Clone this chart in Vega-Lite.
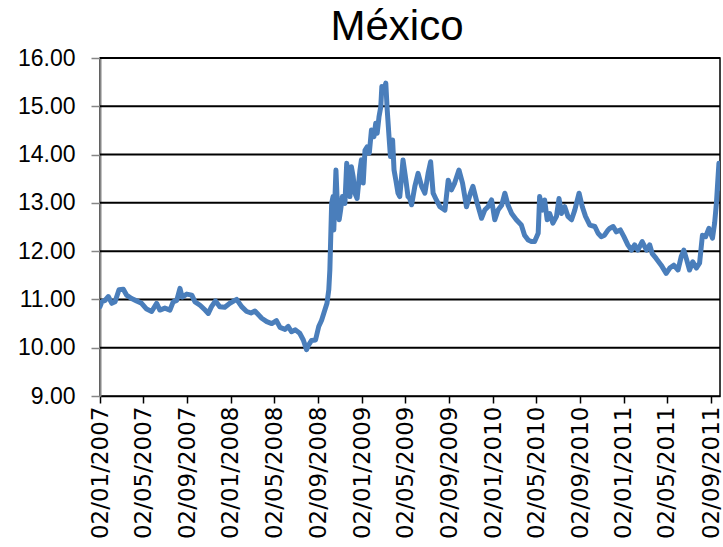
{
  "$schema": "https://vega.github.io/schema/vega-lite/v6.json",
  "autosize": "none",
  "width": 620,
  "height": 338,
  "padding": {"left": 100, "top": 58, "right": 3, "bottom": 151},
  "background": "white",
  "title": {
    "text": "México",
    "font": "Liberation Sans",
    "fontSize": 42,
    "fontWeight": "normal",
    "color": "#000000",
    "anchor": "middle",
    "offset": 10,
    "dx": -13,
    "dy": 12
  },
  "config": {
    "view": {"stroke": "#000000", "strokeWidth": 1.5},
    "axis": {"grid": false}
  },
  "data": {
    "values": [
      {"date": "2007-01-02", "rate": 10.85},
      {"date": "2007-01-07", "rate": 10.95},
      {"date": "2007-01-16", "rate": 10.98},
      {"date": "2007-01-25", "rate": 11.06},
      {"date": "2007-02-04", "rate": 10.92},
      {"date": "2007-02-13", "rate": 10.95},
      {"date": "2007-02-24", "rate": 11.20},
      {"date": "2007-03-08", "rate": 11.21},
      {"date": "2007-03-17", "rate": 11.09},
      {"date": "2007-03-31", "rate": 11.02},
      {"date": "2007-04-14", "rate": 10.97},
      {"date": "2007-04-28", "rate": 10.92},
      {"date": "2007-05-12", "rate": 10.80},
      {"date": "2007-05-26", "rate": 10.75},
      {"date": "2007-06-09", "rate": 10.92},
      {"date": "2007-06-18", "rate": 10.78},
      {"date": "2007-07-02", "rate": 10.82},
      {"date": "2007-07-16", "rate": 10.78},
      {"date": "2007-07-25", "rate": 10.95},
      {"date": "2007-08-04", "rate": 10.98},
      {"date": "2007-08-13", "rate": 11.23},
      {"date": "2007-08-19", "rate": 11.05},
      {"date": "2007-09-01", "rate": 11.11},
      {"date": "2007-09-15", "rate": 11.09},
      {"date": "2007-09-24", "rate": 10.95},
      {"date": "2007-10-08", "rate": 10.88},
      {"date": "2007-10-22", "rate": 10.78},
      {"date": "2007-10-31", "rate": 10.71},
      {"date": "2007-11-09", "rate": 10.85},
      {"date": "2007-11-20", "rate": 10.97},
      {"date": "2007-12-02", "rate": 10.85},
      {"date": "2007-12-16", "rate": 10.84},
      {"date": "2007-12-30", "rate": 10.92},
      {"date": "2008-01-18", "rate": 11.00},
      {"date": "2008-02-01", "rate": 10.85},
      {"date": "2008-02-15", "rate": 10.75},
      {"date": "2008-02-27", "rate": 10.72},
      {"date": "2008-03-09", "rate": 10.76},
      {"date": "2008-03-28", "rate": 10.61},
      {"date": "2008-04-11", "rate": 10.54},
      {"date": "2008-04-25", "rate": 10.50},
      {"date": "2008-05-08", "rate": 10.56},
      {"date": "2008-05-18", "rate": 10.42},
      {"date": "2008-06-01", "rate": 10.38},
      {"date": "2008-06-10", "rate": 10.44},
      {"date": "2008-06-19", "rate": 10.33},
      {"date": "2008-06-30", "rate": 10.37},
      {"date": "2008-07-12", "rate": 10.30},
      {"date": "2008-07-22", "rate": 10.16},
      {"date": "2008-07-31", "rate": 9.96},
      {"date": "2008-08-06", "rate": 10.06},
      {"date": "2008-08-14", "rate": 10.15},
      {"date": "2008-08-25", "rate": 10.16},
      {"date": "2008-09-03", "rate": 10.44},
      {"date": "2008-09-11", "rate": 10.57},
      {"date": "2008-09-20", "rate": 10.78},
      {"date": "2008-09-26", "rate": 10.92},
      {"date": "2008-10-01", "rate": 11.20},
      {"date": "2008-10-04", "rate": 11.61},
      {"date": "2008-10-09", "rate": 12.99},
      {"date": "2008-10-13", "rate": 13.13},
      {"date": "2008-10-15", "rate": 12.44},
      {"date": "2008-10-21", "rate": 13.68},
      {"date": "2008-10-24", "rate": 13.13},
      {"date": "2008-10-30", "rate": 12.65},
      {"date": "2008-11-03", "rate": 12.85},
      {"date": "2008-11-08", "rate": 13.13},
      {"date": "2008-11-15", "rate": 12.99},
      {"date": "2008-11-20", "rate": 13.82},
      {"date": "2008-11-24", "rate": 13.41},
      {"date": "2008-11-29", "rate": 13.13},
      {"date": "2008-12-03", "rate": 13.75},
      {"date": "2008-12-08", "rate": 13.54},
      {"date": "2008-12-13", "rate": 13.20},
      {"date": "2008-12-19", "rate": 13.09},
      {"date": "2008-12-27", "rate": 13.68},
      {"date": "2008-12-31", "rate": 13.89},
      {"date": "2009-01-05", "rate": 13.41},
      {"date": "2009-01-10", "rate": 14.09},
      {"date": "2009-01-16", "rate": 14.16},
      {"date": "2009-01-22", "rate": 14.03},
      {"date": "2009-01-28", "rate": 14.51},
      {"date": "2009-02-04", "rate": 14.37},
      {"date": "2009-02-09", "rate": 14.65},
      {"date": "2009-02-13", "rate": 14.44},
      {"date": "2009-02-18", "rate": 14.78},
      {"date": "2009-02-23", "rate": 14.99},
      {"date": "2009-02-26", "rate": 15.41},
      {"date": "2009-03-04", "rate": 15.34},
      {"date": "2009-03-09", "rate": 15.48},
      {"date": "2009-03-13", "rate": 14.92},
      {"date": "2009-03-18", "rate": 14.37},
      {"date": "2009-03-22", "rate": 13.96},
      {"date": "2009-03-28", "rate": 14.30},
      {"date": "2009-04-01", "rate": 13.68},
      {"date": "2009-04-06", "rate": 13.47},
      {"date": "2009-04-12", "rate": 13.20},
      {"date": "2009-04-17", "rate": 13.13},
      {"date": "2009-04-22", "rate": 13.54},
      {"date": "2009-04-26", "rate": 13.89},
      {"date": "2009-05-04", "rate": 13.47},
      {"date": "2009-05-10", "rate": 13.13},
      {"date": "2009-05-15", "rate": 13.09},
      {"date": "2009-05-20", "rate": 12.96},
      {"date": "2009-05-29", "rate": 13.34},
      {"date": "2009-06-07", "rate": 13.61},
      {"date": "2009-06-17", "rate": 13.34},
      {"date": "2009-06-26", "rate": 13.20},
      {"date": "2009-07-05", "rate": 13.61},
      {"date": "2009-07-12", "rate": 13.85},
      {"date": "2009-07-19", "rate": 13.20},
      {"date": "2009-07-28", "rate": 13.06},
      {"date": "2009-08-07", "rate": 12.92},
      {"date": "2009-08-21", "rate": 12.85},
      {"date": "2009-08-30", "rate": 13.47},
      {"date": "2009-09-08", "rate": 13.27},
      {"date": "2009-09-17", "rate": 13.41},
      {"date": "2009-09-29", "rate": 13.68},
      {"date": "2009-10-09", "rate": 13.41},
      {"date": "2009-10-20", "rate": 12.92},
      {"date": "2009-10-31", "rate": 13.20},
      {"date": "2009-11-07", "rate": 13.34},
      {"date": "2009-11-19", "rate": 12.99},
      {"date": "2009-12-01", "rate": 12.68},
      {"date": "2009-12-10", "rate": 12.85},
      {"date": "2009-12-19", "rate": 12.92},
      {"date": "2009-12-29", "rate": 13.06},
      {"date": "2010-01-07", "rate": 12.65},
      {"date": "2010-01-16", "rate": 12.85},
      {"date": "2010-01-26", "rate": 12.95},
      {"date": "2010-02-04", "rate": 13.20},
      {"date": "2010-02-13", "rate": 12.95},
      {"date": "2010-02-23", "rate": 12.78},
      {"date": "2010-03-08", "rate": 12.65},
      {"date": "2010-03-22", "rate": 12.54},
      {"date": "2010-03-31", "rate": 12.33},
      {"date": "2010-04-10", "rate": 12.23},
      {"date": "2010-04-19", "rate": 12.20},
      {"date": "2010-04-28", "rate": 12.20},
      {"date": "2010-05-08", "rate": 12.37},
      {"date": "2010-05-12", "rate": 13.13},
      {"date": "2010-05-20", "rate": 12.85},
      {"date": "2010-05-26", "rate": 13.06},
      {"date": "2010-06-02", "rate": 12.65},
      {"date": "2010-06-09", "rate": 12.78},
      {"date": "2010-06-18", "rate": 12.58},
      {"date": "2010-06-28", "rate": 12.72},
      {"date": "2010-07-05", "rate": 13.09},
      {"date": "2010-07-12", "rate": 12.78},
      {"date": "2010-07-21", "rate": 12.92},
      {"date": "2010-07-30", "rate": 12.72},
      {"date": "2010-08-09", "rate": 12.65},
      {"date": "2010-08-18", "rate": 12.85},
      {"date": "2010-08-30", "rate": 13.20},
      {"date": "2010-09-08", "rate": 12.92},
      {"date": "2010-09-17", "rate": 12.72},
      {"date": "2010-09-29", "rate": 12.54},
      {"date": "2010-10-13", "rate": 12.51},
      {"date": "2010-10-22", "rate": 12.37},
      {"date": "2010-10-31", "rate": 12.30},
      {"date": "2010-11-09", "rate": 12.33},
      {"date": "2010-11-19", "rate": 12.44},
      {"date": "2010-11-23", "rate": 12.47},
      {"date": "2010-12-03", "rate": 12.51},
      {"date": "2010-12-12", "rate": 12.40},
      {"date": "2010-12-23", "rate": 12.44},
      {"date": "2011-01-02", "rate": 12.30},
      {"date": "2011-01-13", "rate": 12.13},
      {"date": "2011-01-23", "rate": 12.02},
      {"date": "2011-02-01", "rate": 12.13},
      {"date": "2011-02-10", "rate": 12.02},
      {"date": "2011-02-22", "rate": 12.20},
      {"date": "2011-03-06", "rate": 12.02},
      {"date": "2011-03-15", "rate": 12.13},
      {"date": "2011-03-22", "rate": 11.95},
      {"date": "2011-04-02", "rate": 11.85},
      {"date": "2011-04-16", "rate": 11.71},
      {"date": "2011-04-30", "rate": 11.54},
      {"date": "2011-05-10", "rate": 11.65},
      {"date": "2011-05-21", "rate": 11.71},
      {"date": "2011-06-02", "rate": 11.61},
      {"date": "2011-06-11", "rate": 11.89},
      {"date": "2011-06-18", "rate": 12.02},
      {"date": "2011-06-25", "rate": 11.85},
      {"date": "2011-07-04", "rate": 11.61},
      {"date": "2011-07-13", "rate": 11.78},
      {"date": "2011-07-23", "rate": 11.65},
      {"date": "2011-08-01", "rate": 11.75},
      {"date": "2011-08-09", "rate": 12.33},
      {"date": "2011-08-18", "rate": 12.30},
      {"date": "2011-08-27", "rate": 12.47},
      {"date": "2011-09-06", "rate": 12.27},
      {"date": "2011-09-12", "rate": 12.58},
      {"date": "2011-09-17", "rate": 12.99},
      {"date": "2011-09-21", "rate": 13.47},
      {"date": "2011-09-24", "rate": 13.82},
      {"date": "2011-09-27", "rate": 13.30}
    ]
  },
  "layer": [
    {
      "mark": {"type": "rule", "color": "#000000", "strokeWidth": 2},
      "data": {"values": [{"g": 10}, {"g": 11}, {"g": 12}, {"g": 13}, {"g": 14}, {"g": 15}, {"g": 16}]},
      "encoding": {
        "y": {
          "field": "g",
          "type": "quantitative",
          "scale": {"domain": [9, 16], "nice": false, "zero": false},
          "axis": {
            "title": null,
            "values": [9, 10, 11, 12, 13, 14, 15, 16],
            "format": ".2f",
            "labelFont": "Liberation Sans",
            "labelFontSize": 23,
            "labelColor": "#000000",
            "labelPadding": 16,
            "domainColor": "#868686",
            "domainWidth": 2,
            "tickColor": "#868686",
            "tickWidth": 1.5,
            "tickSize": 9,
            "grid": false
          }
        }
      }
    },
    {
      "mark": {"type": "line", "color": "#4A7EBB", "strokeWidth": 5, "strokeCap": "round", "strokeJoin": "round", "clip": true},
      "encoding": {
        "x": {
          "field": "date",
          "type": "temporal",
          "scale": {"domain": ["2007-01-02", "2011-09-27"]},
          "axis": {
            "title": null,
            "values": ["2007-01-02", "2007-05-02", "2007-09-02", "2008-01-02", "2008-05-02", "2008-09-02", "2009-01-02", "2009-05-02", "2009-09-02", "2010-01-02", "2010-05-02", "2010-09-02", "2011-01-02", "2011-05-02", "2011-09-02"],
            "format": "%d/%m/%Y",
            "labelAngle": -90,
            "labelFont": "DejaVu Sans",
            "labelFontSize": 23,
            "labelColor": "#000000",
            "labelPadding": 3,
            "labelOverlap": false,
            "labelBound": false,
            "labelFlush": false,
            "domainColor": "#000000",
            "domainWidth": 1.5,
            "tickColor": "#000000",
            "tickWidth": 1.5,
            "tickSize": 7,
            "grid": false
          }
        },
        "y": {
          "field": "rate",
          "type": "quantitative"
        }
      }
    }
  ]
}
